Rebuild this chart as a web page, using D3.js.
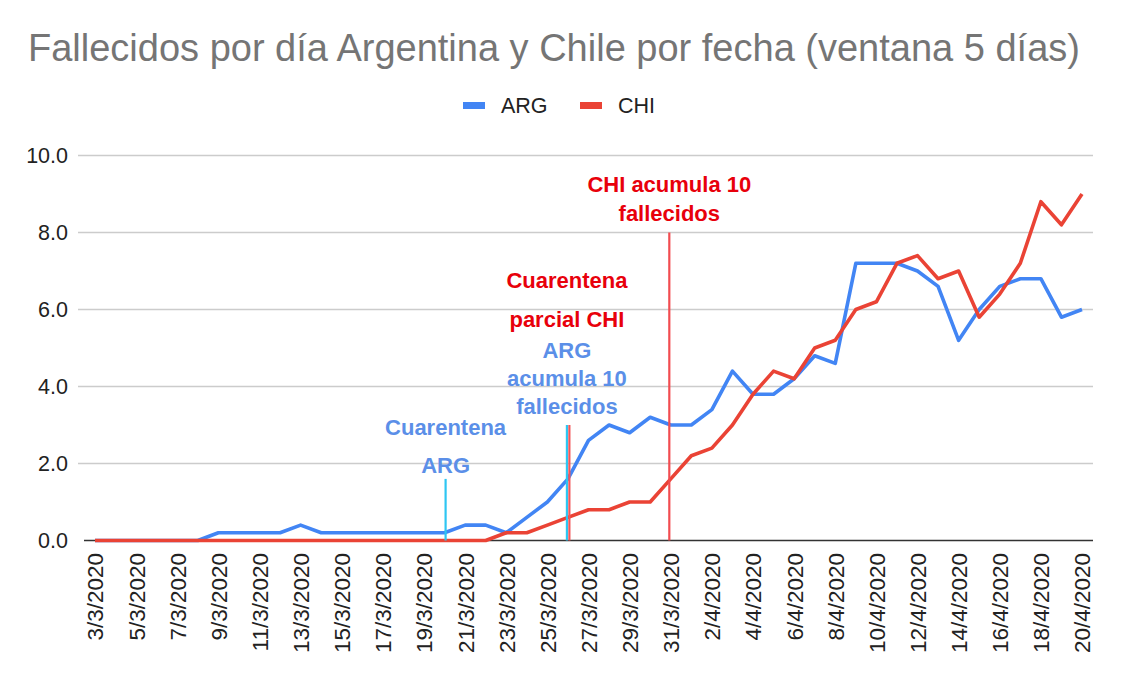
<!DOCTYPE html>
<html>
<head>
<meta charset="utf-8">
<script src="https://cdn.jsdelivr.net/npm/d3@7"></script>
<style>
  body { margin: 0; background: #fff; }
  svg text { font-family: "Liberation Sans", Arial, sans-serif; }
</style>
</head>
<body>
<svg id="chart" width="1121" height="681"></svg>
<script>
// fechas: 3/3/2020 .. 20/4/2020
const dates = [];
for (let d = 3; d <= 31; d++) dates.push(d + '/3/2020');
for (let d = 1; d <= 20; d++) dates.push(d + '/4/2020');

const arg = [0, 0, 0, 0, 0, 0, 0.2, 0.2, 0.2, 0.2, 0.4, 0.2, 0.2, 0.2, 0.2, 0.2, 0.2, 0.2,
  0.4, 0.4, 0.2, 0.6, 1.0, 1.6, 2.6, 3.0, 2.8, 3.2, 3.0, 3.0, 3.4, 4.4, 3.8, 3.8, 4.2, 4.8,
  4.6, 7.2, 7.2, 7.2, 7.0, 6.6, 5.2, 6.0, 6.6, 6.8, 6.8, 5.8, 6.0];
const chi = [0, 0, 0, 0, 0, 0, 0, 0, 0, 0, 0, 0, 0, 0, 0, 0, 0, 0,
  0, 0, 0.2, 0.2, 0.4, 0.6, 0.8, 0.8, 1.0, 1.0, 1.6, 2.2, 2.4, 3.0, 3.8, 4.4, 4.2, 5.0,
  5.2, 6.0, 6.2, 7.2, 7.4, 6.8, 7.0, 5.8, 6.4, 7.2, 8.8, 8.2, 9.0];

const yTicks = [0, 2, 4, 6, 8, 10];

// marcas dibujadas a mano sobre el gráfico (posición en días, altura en fallecidos)
const markers = [
  { day: 17.05, top: 1.6, color: '#2ec6f2' },
  { day: 22.95, top: 3.0, color: '#2ec6f2' },
  { day: 23.07, top: 3.0, color: '#f2575a' },
  { day: 27.93, top: 8.0, color: '#f24c50' }
];
const notes = [
  { day: 17.05, val: 2.75, lines: ['Cuarentena'], color: '#5b8fe8' },
  { day: 17.05, val: 1.75, lines: ['ARG'], color: '#5b8fe8' },
  { day: 22.95, val: 4.75, lines: ['ARG', 'acumula 10', 'fallecidos'], color: '#5b8fe8', gap: 28 },
  { day: 22.95, val: 6.55, lines: ['Cuarentena', 'parcial CHI'], color: '#e8000b', gap: 38.5 },
  { day: 27.93, val: 9.05, lines: ['CHI acumula 10', 'fallecidos'], color: '#e8000b', gap: 28.5 }
];

const series = [
  { name: 'ARG', values: arg, color: '#4285f4' },
  { name: 'CHI', values: chi, color: '#ea4335' }
];

const svg = d3.select('#chart');
const x = d3.scaleLinear().domain([0, dates.length - 1]).range([95, 1082]);
const y = d3.scaleLinear().domain([0, 10]).range([540.5, 155.5]);

svg.append('text')
    .attr('x', 28).attr('y', 61)
    .attr('font-size', 38)
    .attr('fill', '#757575')
    .text('Fallecidos por día Argentina y Chile por fecha (ventana 5 días)');

// leyenda
const legendX = [463, 580];
const lg = svg.append('g');
series.forEach((s, i) => {
  lg.append('rect')
      .attr('x', legendX[i]).attr('y', 102)
      .attr('width', 22).attr('height', 7)
      .attr('fill', s.color);
  lg.append('text')
      .attr('x', legendX[i] + 38).attr('y', 113)
      .attr('font-size', 21.5)
      .attr('fill', '#222')
      .text(s.name);
});

// rejilla y eje y
svg.append('g')
    .selectAll('line')
    .data(yTicks.filter(d => d > 0))
    .join('line')
      .attr('x1', 78).attr('x2', 1093)
      .attr('y1', d => y(d)).attr('y2', d => y(d))
      .attr('stroke', '#cccccc')
      .attr('stroke-width', 1.5);

svg.append('g')
    .selectAll('text')
    .data(yTicks)
    .join('text')
      .attr('x', 68)
      .attr('y', d => y(d))
      .attr('dy', '0.35em')
      .attr('text-anchor', 'end')
      .attr('font-size', 21.5)
      .attr('fill', '#222')
      .text(d => d.toFixed(1));

svg.append('line')
    .attr('x1', 84).attr('x2', 1093)
    .attr('y1', y(0)).attr('y2', y(0))
    .attr('stroke', '#333')
    .attr('stroke-width', 1.5);

// eje x: una etiqueta cada dos días
const xAxis = d3.axisBottom(x)
    .tickValues(d3.range(0, dates.length, 2))
    .tickSize(0)
    .tickFormat(i => dates[i]);
const gx = svg.append('g')
    .attr('transform', `translate(0,${y(0)})`)
    .call(xAxis);
gx.select('.domain').remove();
gx.selectAll('text')
    .attr('font-size', 22.5)
    .attr('font-family', '"Liberation Sans", Arial, sans-serif')
    .attr('fill', '#222')
    .attr('transform', 'rotate(-90)')
    .attr('text-anchor', 'end')
    .attr('x', -12.5)
    .attr('y', 0)
    .attr('dy', '0.35em');

// series
const line = d3.line()
    .x((d, i) => x(i))
    .y(d => y(d));

svg.append('g')
    .attr('fill', 'none')
  .selectAll('path')
    .data(series)
    .join('path')
      .attr('stroke', d => d.color)
      .attr('stroke-width', 3.6)
      .attr('stroke-linejoin', 'round')
      .attr('d', d => line(d.values));

// marcas verticales
svg.append('g')
  .selectAll('line')
    .data(markers)
    .join('line')
      .attr('x1', d => x(d.day)).attr('x2', d => x(d.day))
      .attr('y1', y(0)).attr('y2', d => y(d.top))
      .attr('stroke', d => d.color)
      .attr('stroke-width', 2.2);

// anotaciones
const ng = svg.append('g')
    .attr('font-weight', 'bold')
    .attr('font-size', 22)
    .attr('text-anchor', 'middle');
notes.forEach(n => {
  n.lines.forEach((t, k) => {
    ng.append('text')
        .attr('x', x(n.day))
        .attr('y', y(n.val) + k * (n.gap || 0))
        .attr('fill', n.color)
        .text(t);
  });
});
</script>
</body>
</html>
